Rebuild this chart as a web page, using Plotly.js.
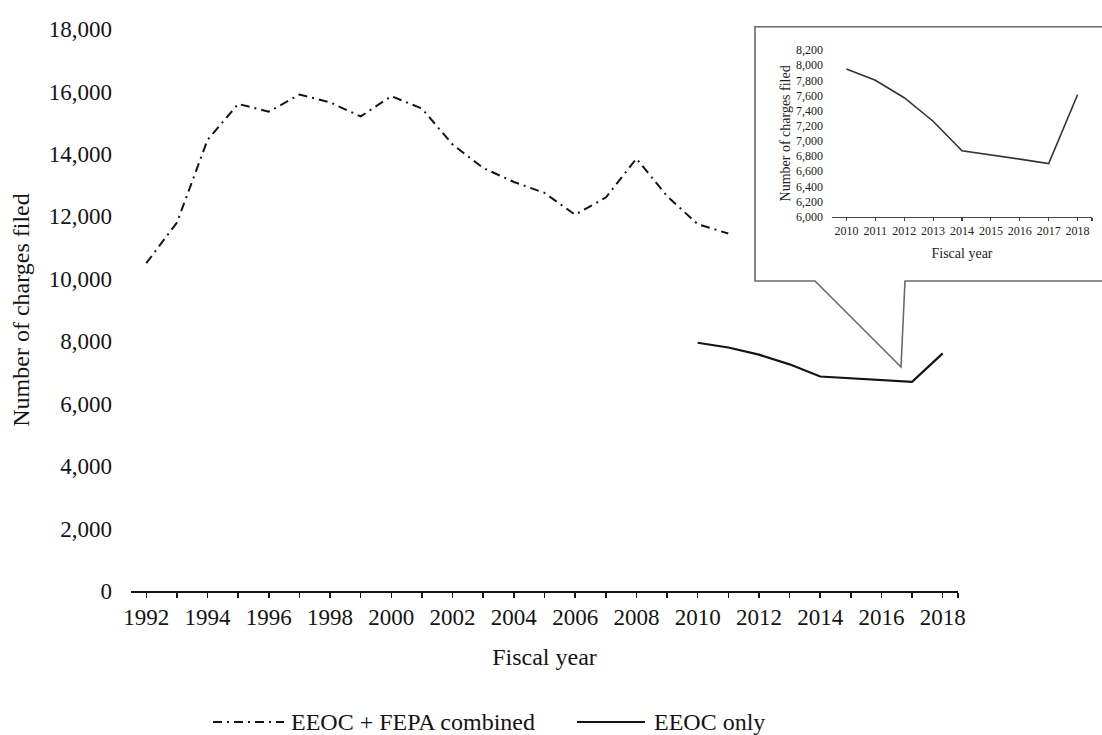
<!DOCTYPE html>
<html>
<head>
<meta charset="utf-8">
<script src="https://cdn.plot.ly/plotly-3.0.1.min.js"></script>
<style>html,body{margin:0;padding:0;background:#fff;}#chart{width:1102px;height:735px;}</style>
</head>
<body>
<div id="chart"></div>
<script>
// ---- Data ----
const combinedYears = [1992, 1993, 1994, 1995, 1996, 1997, 1998, 1999, 2000, 2001, 2002, 2003, 2004, 2005, 2006, 2007, 2008, 2009, 2010, 2011];
const combinedCharges = [10500, 11800, 14450, 15600, 15350, 15900, 15650, 15200, 15850, 15450, 14300, 13550, 13100, 12750, 12050, 12600, 13850, 12650, 11750, 11450];
const eeocYears = [2010, 2011, 2012, 2013, 2014, 2015, 2016, 2017, 2018];
const eeocCharges = [7950, 7800, 7570, 7260, 6870, 6820, 6760, 6700, 7610];

const mainTickYears = [1992, 1993, 1994, 1995, 1996, 1997, 1998, 1999, 2000, 2001, 2002, 2003, 2004, 2005, 2006, 2007, 2008, 2009, 2010, 2011, 2012, 2013, 2014, 2015, 2016, 2017, 2018];
const mainTickLabels = ['1992', '', '1994', '', '1996', '', '1998', '', '2000', '', '2002', '', '2004', '', '2006', '', '2008', '', '2010', '', '2012', '', '2014', '', '2016', '', '2018'];
const mainYTicks = [0, 2000, 4000, 6000, 8000, 10000, 12000, 14000, 16000, 18000];
const insetTickYears = [2010, 2011, 2012, 2013, 2014, 2015, 2016, 2017, 2018];
const insetTickLabels = ['2010', '2011', '2012', '2013', '2014', '2015', '2016', '2017', '2018'];
const insetYTicks = [6000, 6200, 6400, 6600, 6800, 7000, 7200, 7400, 7600, 7800, 8000, 8200];

const legendNames = ['EEOC + FEPA combined', 'EEOC only'];

// ---- Layout helpers (pixel -> paper) ----
const W = 1102, H = 735;
const px = x => x / W;
const py = y => 1 - y / H;
const FONT = 'Liberation Serif, Times New Roman, serif';
const INK = '#141414';
const DASHDOT = '9px,5px,2px,5px';

const mainRange = [1991.5, 2018.5];
const insetRange = [2009.5, 2018.5];

const traces = [
  {x: combinedYears, y: combinedCharges, type: 'scatter', mode: 'lines', name: legendNames[0],
   line: {color: INK, width: 2, dash: DASHDOT}, xaxis: 'x', yaxis: 'y', showlegend: false},
  {x: eeocYears, y: eeocCharges, type: 'scatter', mode: 'lines', name: legendNames[1],
   line: {color: INK, width: 2.2}, xaxis: 'x', yaxis: 'y', showlegend: false},
  {x: eeocYears, y: eeocCharges, type: 'scatter', mode: 'lines', name: legendNames[1] + ' (inset)',
   line: {color: '#333', width: 1.6}, xaxis: 'x2', yaxis: 'y2', showlegend: false}
];

// callout box (speech-bubble shape)
const box = [[1115, 26.7], [755, 26.7], [755, 281], [815, 281], [901, 367], [905, 281], [1115, 281]];
const calloutPath = 'M' + box.map(p => px(p[0]) + ',' + py(p[1])).join(' L') + ' Z';

const layout = {
  width: W, height: H,
  margin: {l: 0, r: 0, t: 0, b: 0},
  paper_bgcolor: '#fff', plot_bgcolor: 'rgba(0,0,0,0)',
  font: {family: FONT, color: INK},
  showlegend: false,
  xaxis: {
    domain: [px(131), px(958)], range: mainRange, anchor: 'y',
    showline: true, linecolor: INK, linewidth: 1.6,
    ticks: 'outside', ticklen: 5, tickwidth: 1.5, tickcolor: INK,
    tickmode: 'array', tickvals: mainTickYears.concat([mainRange[1]]), ticktext: mainTickLabels.concat(['']),
    tickfont: {family: FONT, size: 23, color: INK},
    showgrid: false, zeroline: false,
    title: {text: 'Fiscal year', font: {family: FONT, size: 24, color: INK}, standoff: 19}
  },
  yaxis: {
    domain: [py(591), py(29)], range: [0, 18000], anchor: 'x',
    showline: false, ticks: '', showgrid: false, zeroline: false,
    tickmode: 'array', tickvals: mainYTicks, tickformat: ',d',
    tickfont: {family: FONT, size: 23, color: INK},
    ticklabelstandoff: 18,
    title: {text: 'Number of charges filed', font: {family: FONT, size: 24, color: INK}, standoff: 12}
  },
  xaxis2: {
    domain: [px(832), px(1092)], range: insetRange, anchor: 'y2',
    showline: true, linecolor: '#444', linewidth: 1.3,
    ticks: 'outside', ticklen: 3, tickwidth: 1.2, tickcolor: '#444',
    tickmode: 'array', tickvals: insetTickYears.concat([insetRange[1]]), ticktext: insetTickLabels.concat(['']),
    tickfont: {family: FONT, size: 12, color: '#222'},
    showgrid: false, zeroline: false,
    title: {text: 'Fiscal year', font: {family: FONT, size: 14, color: '#222'}, standoff: 10}
  },
  yaxis2: {
    domain: [py(216.7), py(50)], range: [6000, 8200], anchor: 'x2',
    showline: false, ticks: '', showgrid: false, zeroline: false,
    tickmode: 'array', tickvals: insetYTicks, tickformat: ',d',
    tickfont: {family: FONT, size: 12, color: '#222'},
    ticklabelstandoff: 8,
    title: {text: 'Number of charges filed', font: {family: FONT, size: 14, color: '#222'}, standoff: 2}
  },
  shapes: [
    {type: 'path', xref: 'paper', yref: 'paper', path: calloutPath, layer: 'below',
     line: {color: '#6a6a6a', width: 1.6}, fillcolor: '#fff'},
    {type: 'line', xref: 'paper', yref: 'paper', x0: px(213), x1: px(284), y0: py(722), y1: py(722),
     line: {color: INK, width: 2, dash: DASHDOT}},
    {type: 'line', xref: 'paper', yref: 'paper', x0: px(577), x1: px(645), y0: py(722), y1: py(722),
     line: {color: INK, width: 2.2}}
  ],
  annotations: [
    {xref: 'paper', yref: 'paper', x: px(289), y: py(722), xanchor: 'left', yanchor: 'middle',
     text: legendNames[0], showarrow: false, font: {family: FONT, size: 24, color: INK}},
    {xref: 'paper', yref: 'paper', x: px(652), y: py(722), xanchor: 'left', yanchor: 'middle',
     text: legendNames[1], showarrow: false, font: {family: FONT, size: 24, color: INK}}
  ]
};

Plotly.newPlot('chart', traces, layout, {displayModeBar: false, staticPlot: true});
</script>
</body>
</html>
